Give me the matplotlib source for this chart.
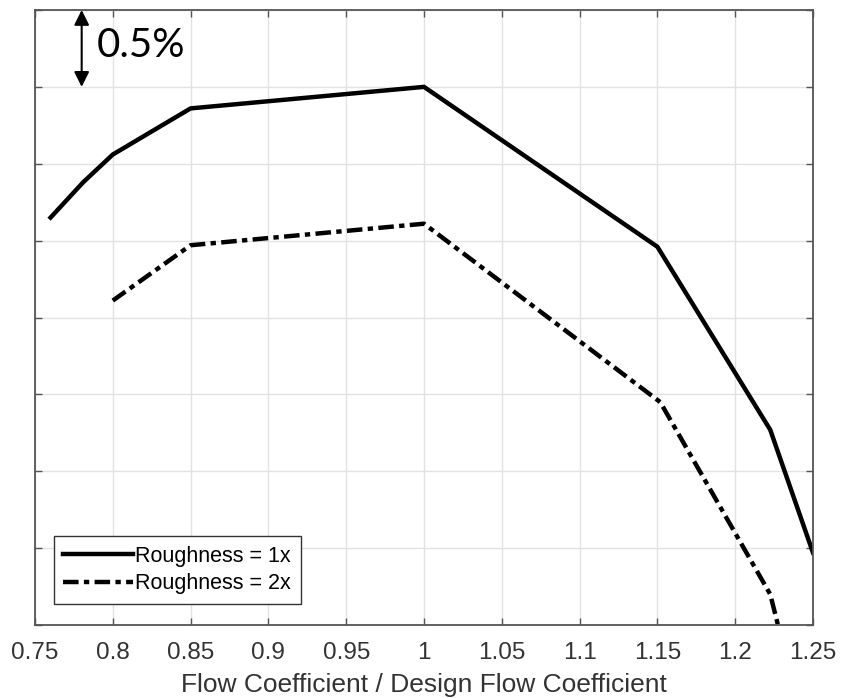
import matplotlib
matplotlib.use("Agg")
import matplotlib.pyplot as plt

# Data (y in % units, arbitrary baseline; one grid step = 0.5%)
x_r1 = [0.76, 0.781, 0.80, 0.85, 1.00, 1.15, 1.2225, 1.25]
y_r1 = [2.65, 2.88, 3.06, 3.36, 3.50, 2.46, 1.27, 0.47]
x_r2 = [0.80, 0.85, 1.00, 1.1518, 1.2225, 1.23]
y_r2 = [2.11, 2.47, 2.61, 1.45, 0.20, -0.10]
labels = ["Roughness = 1x", "Roughness = 2x"]
xticks = [0.75, 0.8, 0.85, 0.9, 0.95, 1.0, 1.05, 1.1, 1.15, 1.2, 1.25]
xticklabels = ["0.75", "0.8", "0.85", "0.9", "0.95", "1", "1.05", "1.1", "1.15", "1.2", "1.25"]

plt.rcParams['font.family'] = ['Liberation Sans', 'DejaVu Sans']

fig = plt.figure(figsize=(8.41, 6.98), dpi=100)
ax = fig.add_axes([35/841, 1-625/698, (813-35)/841, (625-10)/698])

ax.plot(x_r1, y_r1, color='black', lw=3.2, solid_joinstyle='miter', label=labels[0])
ax.plot(x_r2, y_r2, color='black', lw=3.2, linestyle=(0, (3.5, 1.2, 1.2, 1.2)), label=labels[1])

ax.set_xlim(0.75, 1.25)
ax.set_ylim(0, 4.0)
ax.set_xticks(xticks)
ax.set_xticklabels(xticklabels)
ax.set_yticks([i*0.5 for i in range(9)])
ax.set_yticklabels([])
ax.grid(True, color='#e2e2e2', lw=1.0)
ax.set_axisbelow(True)
ax.tick_params(direction='in', top=True, right=True, length=5, width=1.0,
               colors='#555555', labelcolor='#333333', labelsize=17.5, pad=12)
for s in ax.spines.values():
    s.set_color('#555555')
    s.set_linewidth(1.3)
ax.set_xlabel("Flow Coefficient / Design Flow Coefficient", fontsize=19, color='#333333', labelpad=7)

leg = ax.legend(loc='lower left', bbox_to_anchor=(0.024, 0.034), borderaxespad=0,
                fontsize=15.5, handlelength=3.25, handletextpad=0.1, fancybox=False,
                framealpha=1, edgecolor='#333333', borderpad=0.45, labelspacing=0.3)
leg.get_frame().set_linewidth(1.0)

ax.annotate("", xy=(0.780, 4.0), xytext=(0.780, 3.5),
            arrowprops=dict(arrowstyle='<|-|>,head_length=0.9,head_width=0.45', color='black', lw=1.5,
                            shrinkA=0, shrinkB=0))
ax.text(0.790, 3.77, "0.5%", fontsize=29, family=['Lato', 'DejaVu Sans'], va='center', ha='left', color='black')

fig.savefig("out.png", dpi=100)
